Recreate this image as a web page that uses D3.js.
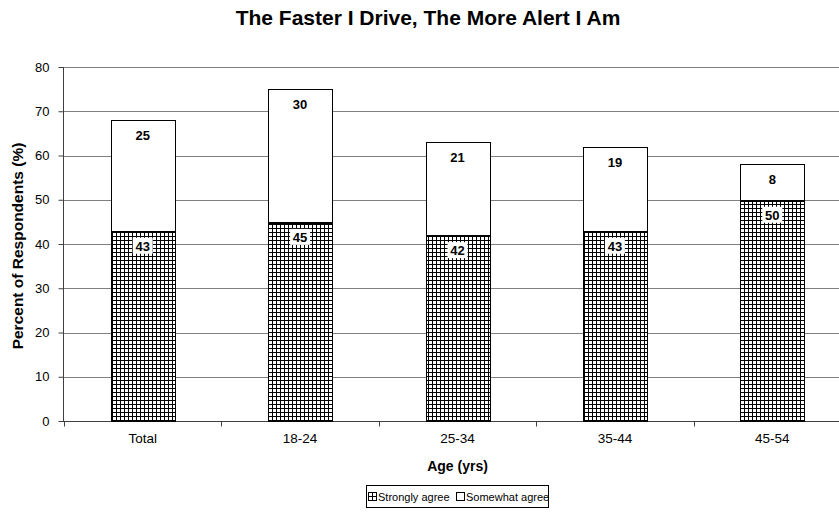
<!DOCTYPE html>
<html>
<head>
<meta charset="utf-8">
<script src="https://cdn.jsdelivr.net/npm/d3@7"></script>
<style>
  html, body { margin: 0; padding: 0; background: #fff; }
  svg { display: block; font-family: Arial, "Liberation Sans", sans-serif; }
</style>
</head>
<body>
<svg id="chart" width="839" height="514"></svg>
<script>
// Survey results by age group
const categories = ["Total", "18-24", "25-34", "35-44", "45-54"];
const stronglyAgree = [43, 45, 42, 43, 50];
const somewhatAgree = [25, 30, 21, 19, 8];
const yTicks = [0, 10, 20, 30, 40, 50, 60, 70, 80];
const seriesNames = ["Strongly agree", "Somewhat agree"];

const svg = d3.select("#chart");
const margin = { left: 64, top: 67, bottom: 421 };
const plotRight = 64 + 787;

const x = d3.scaleBand().domain(categories).range([margin.left, plotRight]).padding(0);
const y = d3.scaleLinear().domain([0, 80]).range([margin.bottom, margin.top]);
const barW = x.bandwidth() * 0.406;

// Cross-hatch fill for the "Strongly agree" series
const defs = svg.append("defs");
const pat = defs.append("pattern")
  .attr("id", "hatch").attr("patternUnits", "userSpaceOnUse")
  .attr("width", 4).attr("height", 4).attr("x", 0).attr("y", 0);
pat.append("rect").attr("width", 4).attr("height", 4).attr("fill", "#fff");
pat.append("path").attr("d", "M0,0.5H4M0.5,0V4").attr("stroke", "#000").attr("stroke-width", 1)
  .attr("shape-rendering", "crispEdges");

// Title
svg.append("text")
  .attr("x", 428).attr("y", 25)
  .attr("text-anchor", "middle")
  .attr("font-size", 21).attr("font-weight", "bold")
  .text("The Faster I Drive, The More Alert I Am");

// Gridlines
svg.append("g").selectAll("line").data(yTicks.filter(d => d > 0)).join("line")
  .attr("x1", margin.left).attr("x2", plotRight)
  .attr("y1", d => Math.round(y(d)) + 0.5).attr("y2", d => Math.round(y(d)) + 0.5)
  .attr("stroke", "#808080").attr("stroke-width", 1);

// Y axis
const yAxis = svg.append("g")
  .attr("transform", `translate(${margin.left - 0.5},0)`)
  .call(d3.axisLeft(y).tickValues(yTicks).tickSize(5).tickPadding(9).tickFormat(d3.format("d")));
yAxis.selectAll("path, line").attr("stroke", "#404040");
yAxis.select(".domain").attr("d", `M0,${y(0)}V${y(80)}`);
yAxis.selectAll("text").attr("font-size", 13).attr("font-family", "Arial, 'Liberation Sans', sans-serif").attr("fill", "#000");

// X axis with ticks at category boundaries
const xAxisG = svg.append("g").attr("transform", `translate(0,${Math.round(y(0)) + 0.5})`);
xAxisG.append("line").attr("x1", margin.left - 5).attr("x2", plotRight).attr("stroke", "#404040");
xAxisG.selectAll(".tk").data(categories.map((c, i) => i)).join("line")
  .attr("class", "tk")
  .attr("x1", i => Math.round(x(categories[i])) + 0.5).attr("x2", i => Math.round(x(categories[i])) + 0.5)
  .attr("y1", 0).attr("y2", 5).attr("stroke", "#404040");
xAxisG.selectAll("text").data(categories).join("text")
  .attr("x", d => x(d) + x.bandwidth() / 2).attr("y", 21)
  .attr("text-anchor", "middle").attr("font-size", 13.5)
  .text(d => d);

// Axis titles
svg.append("text")
  .attr("x", x(categories[0]) + (x.bandwidth() * 5) / 2).attr("y", 471)
  .attr("text-anchor", "middle").attr("font-size", 14).attr("font-weight", "bold")
  .text("Age (yrs)");
svg.append("text")
  .attr("transform", `translate(23,${(margin.top + margin.bottom) / 2 + 2}) rotate(-90)`)
  .attr("text-anchor", "middle").attr("font-size", 15.5).attr("font-weight", "bold")
  .text("Percent of Respondents (%)");

// Bars
const rows = categories.map((c, i) => ({ c, a: stronglyAgree[i], b: somewhatAgree[i] }));
const bars = svg.append("g");
rows.forEach(r => {
  const bx = Math.round(x(r.c) + (x.bandwidth() - barW) / 2) + 0.5;
  const w = Math.round(barW);
  const y0 = Math.round(y(0)) + 0.5, yA = Math.round(y(r.a)) + 0.5, yB = Math.round(y(r.a + r.b)) + 0.5;
  bars.append("rect").attr("x", bx).attr("y", yB).attr("width", w).attr("height", yA - yB)
    .attr("fill", "#fff").attr("stroke", "#000").attr("stroke-width", 1);
  bars.append("rect").attr("x", bx).attr("y", yA).attr("width", w).attr("height", y0 - yA)
    .attr("fill", "url(#hatch)").attr("stroke", "#000").attr("stroke-width", 1);
  bars.append("line").attr("x1", bx).attr("x2", bx + w).attr("y1", yA + 1).attr("y2", yA + 1)
    .attr("stroke", "#000");
});

// Value labels
const labels = svg.append("g").attr("font-size", 13).attr("font-weight", "bold").attr("text-anchor", "middle");
rows.forEach(r => {
  const cx = x(r.c) + x.bandwidth() / 2;
  const la = labels.append("g").attr("transform", `translate(${cx},${y(r.a) + 15})`);
  la.append("rect").attr("x", -10).attr("y", -8).attr("width", 20).attr("height", 16).attr("fill", "#fff");
  la.append("text").attr("y", 5).text(r.a);
  labels.append("text").attr("x", cx).attr("y", y(r.a + r.b) + 20).text(r.b);
});

// Legend
const lg = svg.append("g");
lg.append("rect").attr("x", 366.5).attr("y", 485.5).attr("width", 182).attr("height", 22)
  .attr("fill", "#fff").attr("stroke", "#000");
const items = [
  { name: seriesNames[0], fill: "url(#hatch)", x: 368 },
  { name: seriesNames[1], fill: "#fff", x: 456 }
];
items.forEach(it => {
  lg.append("rect").attr("x", it.x + 0.5).attr("y", 492.5).attr("width", 8).attr("height", 8)
    .attr("fill", it.fill).attr("stroke", "#000");
  lg.append("text").attr("x", it.x + 10).attr("y", 500.5).attr("font-size", 11).text(it.name);
});
</script>
</body>
</html>
